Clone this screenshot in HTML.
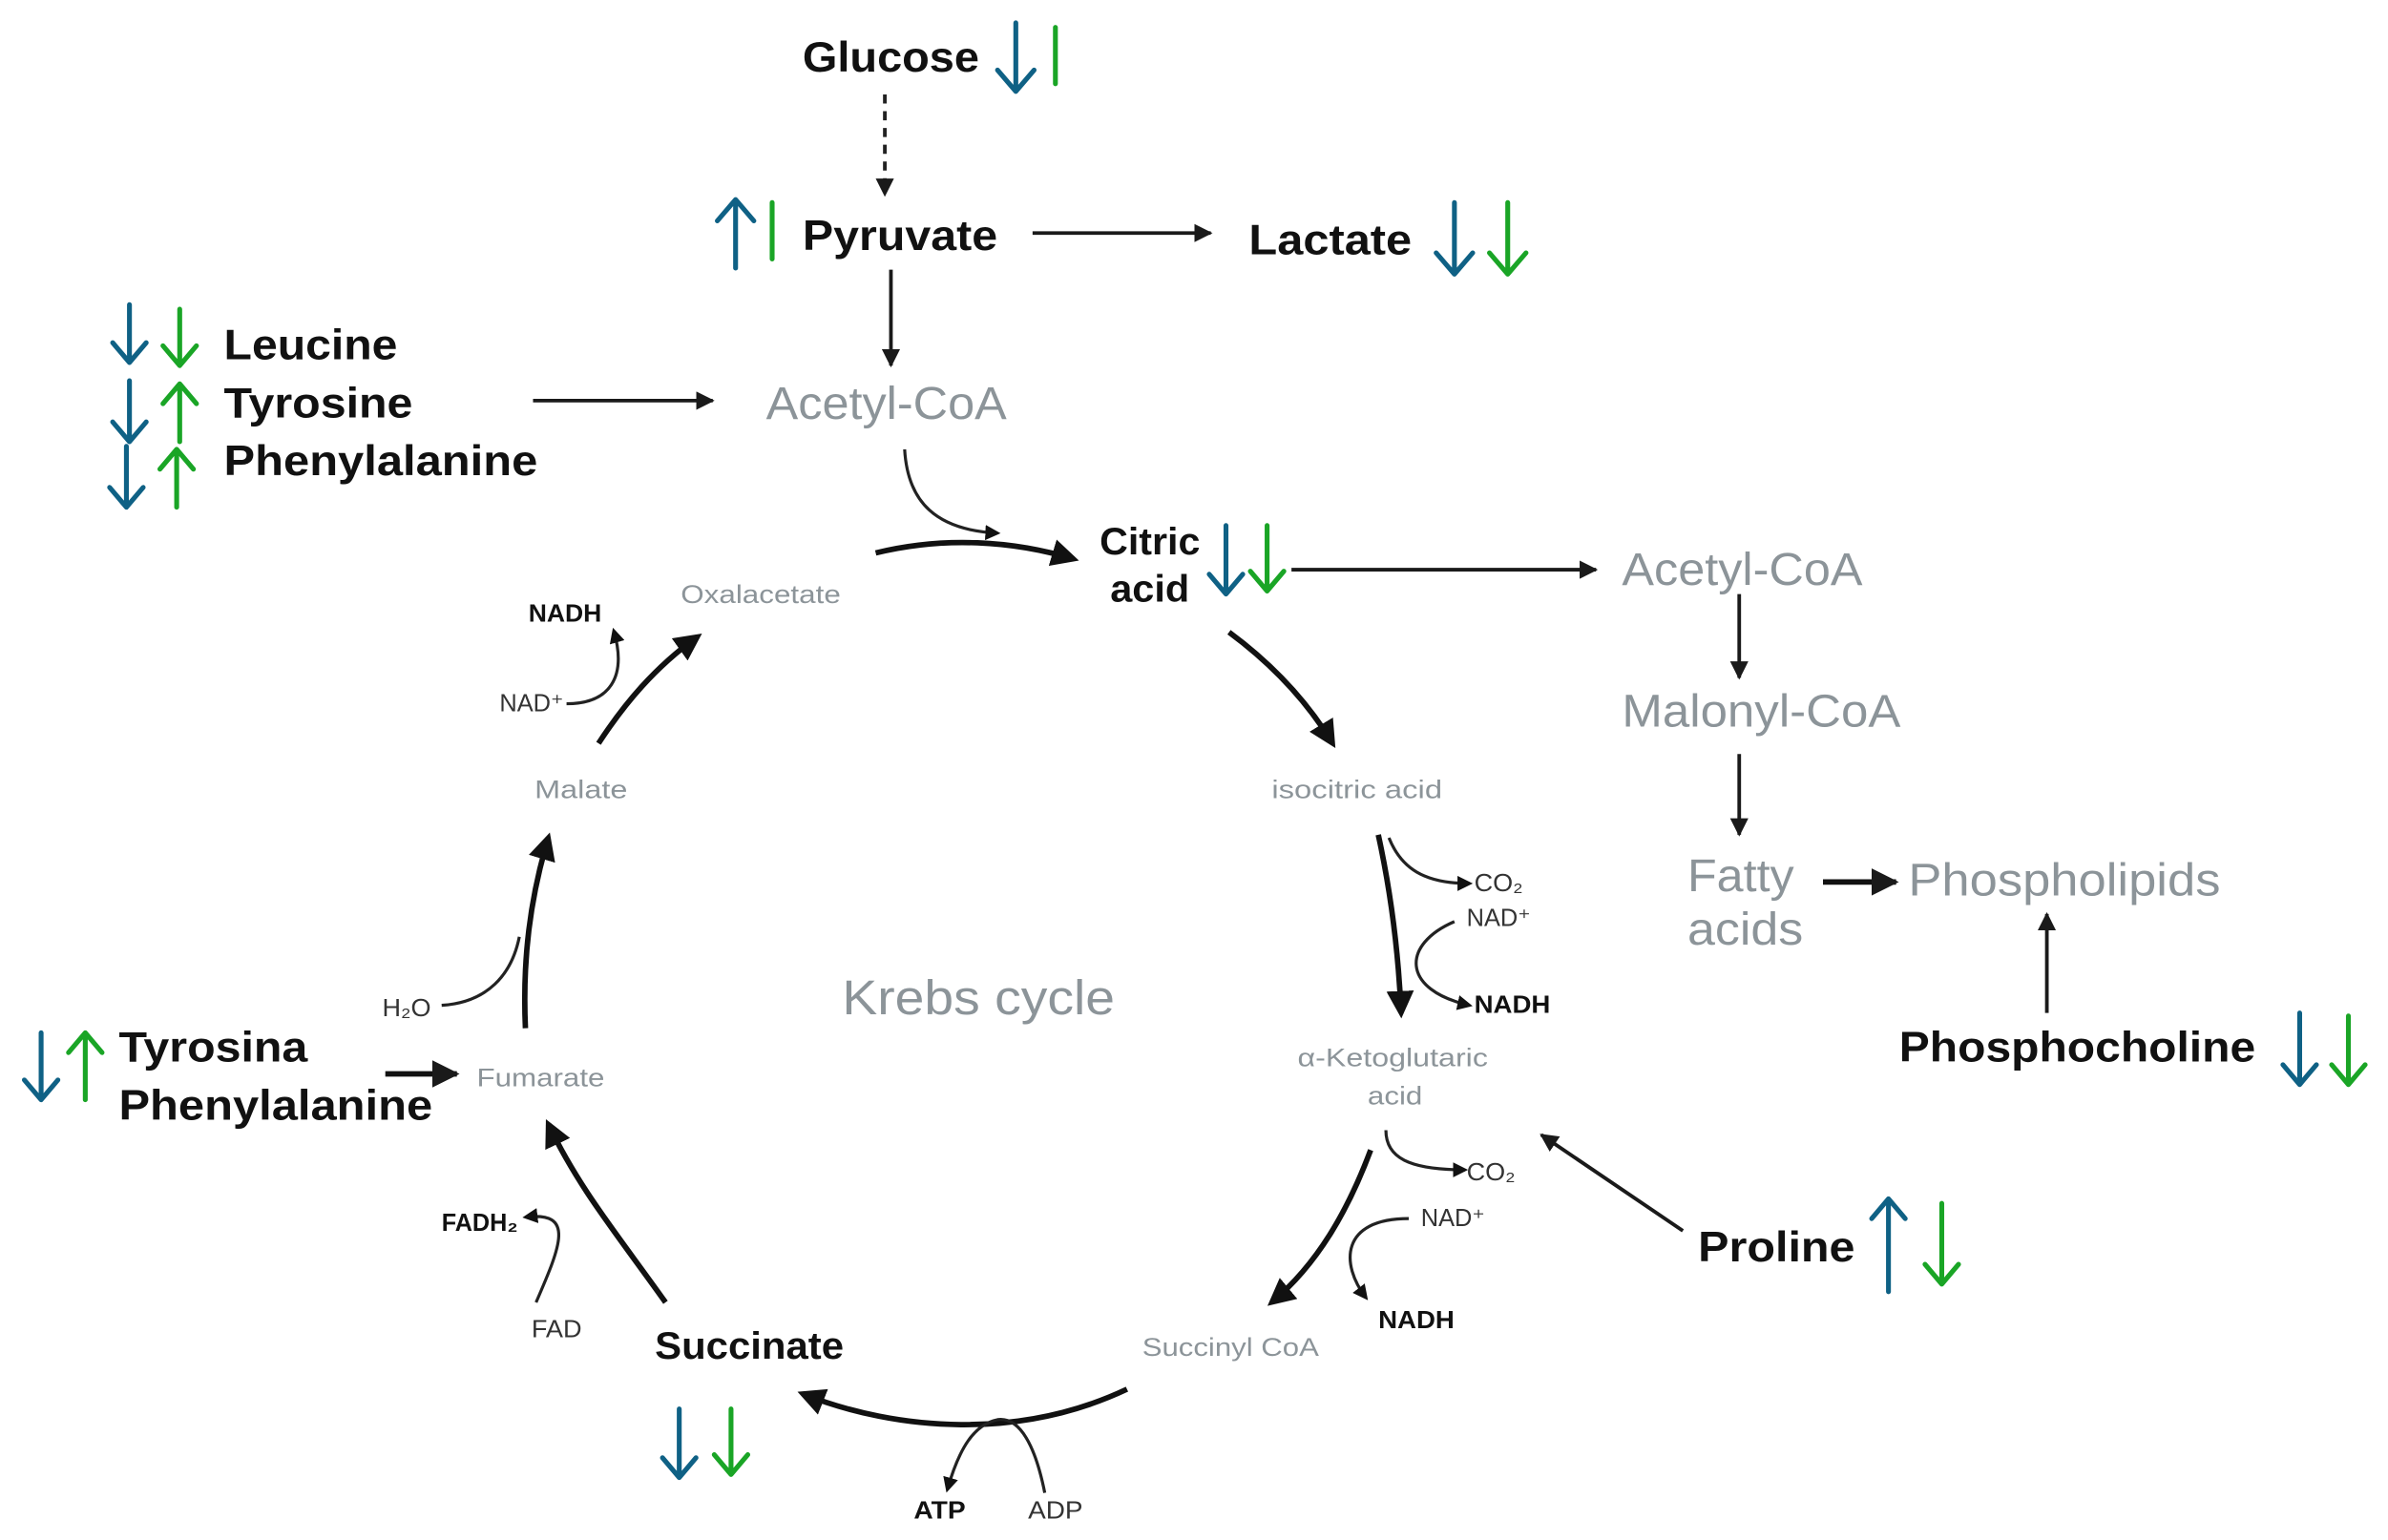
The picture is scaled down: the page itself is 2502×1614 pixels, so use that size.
<!DOCTYPE html>
<html><head><meta charset="utf-8"><style>
html,body{margin:0;padding:0;background:#fff}
svg{display:block}
text{font-family:"Liberation Sans",Arial,sans-serif}
.b{font-weight:bold;fill:#111}
.g{fill:#8c9499}
.s{fill:#111;font-size:16px;font-weight:bold}
.sn{fill:#333;font-size:16px}
.bl{stroke:#0f6185;stroke-width:3.2;fill:none;stroke-linecap:round;stroke-linejoin:round}
.gr{stroke:#1aa526;stroke-width:3.2;fill:none;stroke-linecap:round;stroke-linejoin:round}
.k{stroke:#1a1a1a;stroke-width:2.4;fill:none}
.kt{stroke:#111;stroke-width:3.6;fill:none}
.kf{stroke:#222;stroke-width:2;fill:none}
</style></head><body>
<svg width="2502" height="1614" viewBox="0 0 1568 1011" preserveAspectRatio="none" xmlns="http://www.w3.org/2000/svg">
<defs>
<marker id="m" viewBox="0 0 10 10" refX="9" refY="5" markerWidth="5" markerHeight="5" orient="auto"><path d="M0,0 L10,5 L0,10 z" fill="#1a1a1a"/></marker>
<marker id="mt" viewBox="0 0 10 10" refX="8" refY="5" markerWidth="5" markerHeight="5" orient="auto"><path d="M0,0 L10,5 L0,10 z" fill="#111"/></marker>
<marker id="ms" viewBox="0 0 10 10" refX="8" refY="5" markerWidth="5" markerHeight="5" orient="auto"><path d="M0,0 L10,5 L0,10 z" fill="#111"/></marker>
</defs>

<text x="527" y="47" class="b" font-size="28" textLength="116" lengthAdjust="spacingAndGlyphs">Glucose</text>
<path class="bl" d="M667 15 V60 M655 46 L667 60 L679 46"/>
<path class="gr" d="M693 18 V55"/>
<line x1="581" y1="62" x2="581" y2="128" stroke="#222" stroke-width="2.4" stroke-dasharray="6,5" marker-end="url(#m)"/>

<path class="bl" d="M483 176 V131 M471 145 L483 131 L495 145"/>
<path class="gr" d="M507 133 V170"/>
<text x="527" y="164" class="b" font-size="28" textLength="128" lengthAdjust="spacingAndGlyphs">Pyruvate</text>
<line x1="678" y1="153" x2="795" y2="153" class="k" marker-end="url(#m)"/>
<text x="820" y="167" class="b" font-size="28" textLength="107" lengthAdjust="spacingAndGlyphs">Lactate</text>
<path class="bl" d="M955 133 V180 M943 166 L955 180 L967 166"/>
<path class="gr" d="M990 133 V180 M978 166 L990 180 L1002 166"/>
<line x1="585" y1="177" x2="585" y2="240" class="k" marker-end="url(#m)"/>

<path class="bl" d="M85 200 V238 M74 225 L85 238 L96 225"/>
<path class="gr" d="M118 203 V240 M107 227 L118 240 L129 227"/>
<path class="bl" d="M85 250 V290 M74 277 L85 290 L96 277"/>
<path class="gr" d="M118 290 V252 M107 265 L118 252 L129 265"/>
<path class="bl" d="M83 293 V333 M72 320 L83 333 L94 320"/>
<path class="gr" d="M116 333 V295 M105 308 L116 295 L127 308"/>
<text x="147" y="236" class="b" font-size="28" textLength="114" lengthAdjust="spacingAndGlyphs">Leucine</text>
<text x="147" y="274" class="b" font-size="28" textLength="124" lengthAdjust="spacingAndGlyphs">Tyrosine</text>
<text x="147" y="312" class="b" font-size="28" textLength="206" lengthAdjust="spacingAndGlyphs">Phenylalanine</text>
<line x1="350" y1="263" x2="468" y2="263" class="k" marker-end="url(#m)"/>
<text x="503" y="275" class="g" font-size="30" textLength="158" lengthAdjust="spacingAndGlyphs">Acetyl-CoA</text>

<path class="kf" d="M594 295 C596 330 615 348 655 350" marker-end="url(#ms)"/>
<path class="kt" d="M575 363 C620 352 665 355 705 367" marker-end="url(#mt)"/>

<text x="722" y="364" class="b" font-size="25" textLength="66" lengthAdjust="spacingAndGlyphs">Citric</text>
<text x="729" y="395" class="b" font-size="25" textLength="52" lengthAdjust="spacingAndGlyphs">acid</text>
<path class="bl" d="M805 345 V390 M794 377 L805 390 L816 377"/>
<path class="gr" d="M832 345 V388 M821 375 L832 388 L843 375"/>
<line x1="848" y1="374" x2="1048" y2="374" class="k" marker-end="url(#m)"/>
<text x="1065" y="384" class="g" font-size="30" textLength="158" lengthAdjust="spacingAndGlyphs">Acetyl-CoA</text>
<line x1="1142" y1="390" x2="1142" y2="445" class="k" marker-end="url(#m)"/>
<text x="1065" y="477" class="g" font-size="30" textLength="183" lengthAdjust="spacingAndGlyphs">Malonyl-CoA</text>
<line x1="1142" y1="495" x2="1142" y2="548" class="k" marker-end="url(#m)"/>
<text x="1108" y="585" class="g" font-size="30" textLength="70" lengthAdjust="spacingAndGlyphs">Fatty</text>
<text x="1108" y="620" class="g" font-size="30" textLength="76" lengthAdjust="spacingAndGlyphs">acids</text>
<line x1="1197" y1="579" x2="1245" y2="579" class="kt" stroke-width="3" marker-end="url(#m)"/>
<text x="1253" y="588" class="g" font-size="30" textLength="205" lengthAdjust="spacingAndGlyphs">Phospholipids</text>
<line x1="1344" y1="665" x2="1344" y2="600" class="k" marker-end="url(#m)"/>
<text x="1247" y="697" class="b" font-size="28" textLength="234" lengthAdjust="spacingAndGlyphs">Phosphocholine</text>
<path class="bl" d="M1510 665 V712 M1499 699 L1510 712 L1521 699"/>
<path class="gr" d="M1542 667 V712 M1531 699 L1542 712 L1553 699"/>

<text x="447" y="396" class="g" font-size="17" textLength="105" lengthAdjust="spacingAndGlyphs">Oxalacetate</text>
<text x="347" y="408" class="s" textLength="48" lengthAdjust="spacingAndGlyphs">NADH</text>
<text x="328" y="467" class="sn" textLength="42" lengthAdjust="spacingAndGlyphs">NAD⁺</text>
<path class="kt" d="M393 488 C410 462 430 438 458 418" marker-end="url(#mt)"/>
<path class="kf" d="M372 462 C400 462 412 445 403 414" marker-end="url(#ms)"/>
<text x="351" y="524" class="g" font-size="17" textLength="61" lengthAdjust="spacingAndGlyphs">Malate</text>
<path class="kt" d="M345 675 C343 630 348 590 360 550" marker-end="url(#mt)"/>
<text x="251" y="667" class="sn" textLength="32" lengthAdjust="spacingAndGlyphs">H₂O</text>
<path class="kf" d="M290 660 C320 658 336 640 341 615"/>
<text x="553" y="666" class="g" font-size="32" textLength="179" lengthAdjust="spacingAndGlyphs">Krebs cycle</text>

<path class="bl" d="M27 678 V722 M16 709 L27 722 L38 709"/>
<path class="gr" d="M56 722 V678 M45 691 L56 678 L67 691"/>
<text x="78" y="697" class="b" font-size="28" textLength="124" lengthAdjust="spacingAndGlyphs">Tyrosina</text>
<text x="78" y="735" class="b" font-size="28" textLength="206" lengthAdjust="spacingAndGlyphs">Phenylalanine</text>
<line x1="253" y1="705" x2="300" y2="705" class="kt" stroke-width="3" marker-end="url(#m)"/>
<text x="313" y="713" class="g" font-size="17" textLength="84" lengthAdjust="spacingAndGlyphs">Fumarate</text>

<text x="290" y="808" class="s" textLength="50" lengthAdjust="spacingAndGlyphs">FADH₂</text>
<text x="349" y="878" class="sn" textLength="33" lengthAdjust="spacingAndGlyphs">FAD</text>
<path class="kt" d="M437 855 C405 810 380 780 360 738" marker-end="url(#mt)"/>
<path class="kf" d="M352 855 C368 818 378 795 345 799" marker-end="url(#ms)"/>
<text x="430" y="892" class="b" font-size="25" textLength="124" lengthAdjust="spacingAndGlyphs">Succinate</text>
<path class="bl" d="M446 925 V970 M435 957 L446 970 L457 957"/>
<path class="gr" d="M480 925 V968 M469 955 L480 968 L491 955"/>
<path class="kt" d="M740 912 C670 945 590 940 527 915" marker-end="url(#mt)"/>
<path class="kf" d="M686 980 C680 950 670 930 655 932 C640 935 630 950 622 978" marker-end="url(#ms)"/>
<text x="600" y="997" class="s" textLength="34" lengthAdjust="spacingAndGlyphs">ATP</text>
<text x="675" y="997" class="sn" textLength="36" lengthAdjust="spacingAndGlyphs">ADP</text>
<text x="750" y="890" class="g" font-size="17" textLength="116" lengthAdjust="spacingAndGlyphs">Succinyl CoA</text>

<path class="kt" d="M807 415 C830 432 855 455 875 488" marker-end="url(#mt)"/>
<text x="835" y="524" class="g" font-size="17" textLength="112" lengthAdjust="spacingAndGlyphs">isocitric acid</text>
<path class="kt" d="M905 548 C912 580 918 620 920 665" marker-end="url(#mt)"/>
<path class="kf" d="M912 550 C920 570 935 580 965 580" marker-end="url(#ms)"/>
<text x="968" y="585" class="sn" textLength="32" lengthAdjust="spacingAndGlyphs">CO₂</text>
<text x="963" y="608" class="sn" textLength="42" lengthAdjust="spacingAndGlyphs">NAD⁺</text>
<path class="kf" d="M955 605 C920 620 920 650 965 660" marker-end="url(#ms)"/>
<text x="968" y="665" class="s" textLength="50" lengthAdjust="spacingAndGlyphs">NADH</text>
<text x="852" y="700" class="g" font-size="17" textLength="125" lengthAdjust="spacingAndGlyphs">α-Ketoglutaric</text>
<text x="898" y="725" class="g" font-size="17" textLength="36" lengthAdjust="spacingAndGlyphs">acid</text>
<path class="kt" d="M900 755 C885 795 865 830 835 855" marker-end="url(#mt)"/>
<path class="kf" d="M910 742 C910 760 925 768 962 768" marker-end="url(#ms)"/>
<text x="963" y="775" class="sn" textLength="32" lengthAdjust="spacingAndGlyphs">CO₂</text>
<text x="933" y="805" class="sn" textLength="42" lengthAdjust="spacingAndGlyphs">NAD⁺</text>
<path class="kf" d="M925 800 C880 800 880 830 897 852" marker-end="url(#ms)"/>
<text x="905" y="872" class="s" textLength="50" lengthAdjust="spacingAndGlyphs">NADH</text>
<line x1="1105" y1="808" x2="1012" y2="745" class="k" marker-end="url(#m)"/>
<text x="1115" y="828" class="b" font-size="28" textLength="103" lengthAdjust="spacingAndGlyphs">Proline</text>
<path class="bl" d="M1240 848 V787 M1229 800 L1240 787 L1251 800"/>
<path class="gr" d="M1275 790 V843 M1264 830 L1275 843 L1286 830"/>
</svg>
</body></html>
